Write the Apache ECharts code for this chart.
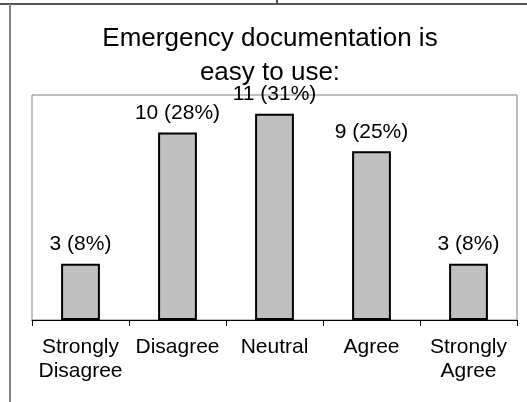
<!DOCTYPE html>
<html>
<head>
<meta charset="utf-8">
<script src="https://cdn.jsdelivr.net/npm/echarts@6/dist/echarts.min.js"></script>
<style>
  html, body { margin: 0; padding: 0; background: #fff; }
  #chart { width: 527px; height: 402px; }
</style>
</head>
<body>
<div id="chart"></div>
<script>
// answers
const categories = ['Strongly Disagree', 'Disagree', 'Neutral', 'Agree', 'Strongly Agree'];
const counts = [3, 10, 11, 9, 3];
const percents = [8, 28, 31, 25, 8];

const FONT = 'Liberation Sans, Arial, sans-serif';

const myChart = echarts.init(document.getElementById('chart'));

const option = {
    backgroundColor: '#fff',
    animation: false,
    title: {
        text: 'Emergency documentation is\neasy to use:',
        left: 270,
        top: 22,
        padding: 0,
        textAlign: 'center',
        textStyle: {
            fontFamily: FONT,
            fontSize: 26,
            fontWeight: 'normal',
            color: '#000',
            lineHeight: 34
        }
    },
    // table borders around the chart
    graphic: [
        { type: 'line', shape: { x1: 0, y1: 4, x2: 527, y2: 4 }, style: { stroke: '#555', lineWidth: 2 } },
        { type: 'line', shape: { x1: 277, y1: 0, x2: 277, y2: 4 }, style: { stroke: '#555', lineWidth: 2 } },
        { type: 'line', shape: { x1: 10, y1: 4, x2: 10, y2: 402 }, style: { stroke: '#808080', lineWidth: 2 } }
    ],
    grid: {
        left: 32,
        right: 10,
        top: 95,
        bottom: 82,
        show: true,
        borderColor: '#808080',
        borderWidth: 1
    },
    xAxis: {
        type: 'category',
        data: categories,
        boundaryGap: true,
        axisLine: { lineStyle: { color: '#000', width: 1 } },
        axisTick: { show: true, length: 6, lineStyle: { color: '#000' } },
        axisLabel: {
            interval: 0,
            margin: 15,
            fontFamily: FONT,
            fontSize: 21,
            lineHeight: 24,
            color: '#000',
            formatter: function (v) { return v.replace('Strongly ', 'Strongly\n'); }
        }
    },
    yAxis: {
        type: 'value',
        min: 0,
        max: 12,
        show: false,
        splitLine: { show: false }
    },
    series: [{
        type: 'bar',
        data: counts,
        barWidth: '40%',
        itemStyle: {
            color: '#c0c0c0',
            borderColor: '#000',
            borderWidth: 2
        },
        label: {
            show: true,
            position: 'top',
            distance: 9,
            fontFamily: FONT,
            fontSize: 21,
            color: '#000',
            formatter: function (p) { return counts[p.dataIndex] + ' (' + percents[p.dataIndex] + '%)'; }
        }
    }]
};

myChart.setOption(option);
</script>
</body>
</html>
